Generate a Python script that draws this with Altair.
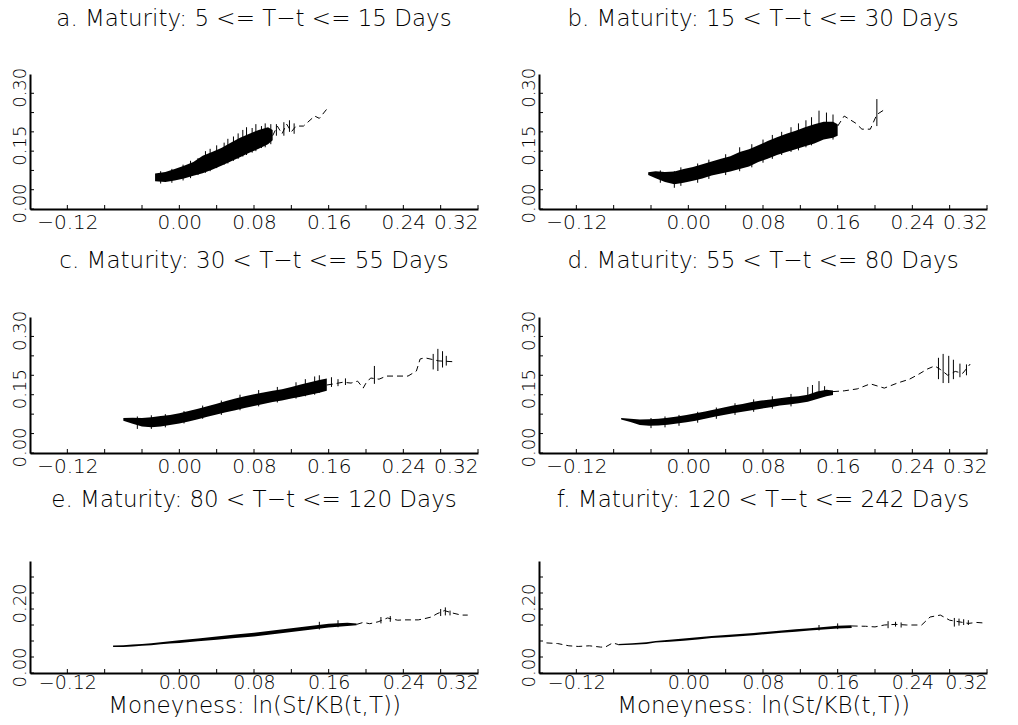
import altair as alt
import pandas as pd

# ---------------- data ----------------
TITLES = {
    "a": "a. Maturity: 5 <= T\u2212t <= 15 Days",
    "b": "b. Maturity: 15 < T\u2212t <= 30 Days",
    "c": "c. Maturity: 30 < T\u2212t <= 55 Days",
    "d": "d. Maturity: 55 < T\u2212t <= 80 Days",
    "e": "e. Maturity: 80 < T\u2212t <= 120 Days",
    "f": "f. Maturity: 120 < T\u2212t <= 242 Days",
}
X_TITLE = "Moneyness: ln(St/KB(t,T))"
X_TICKS = [-0.12, -0.08, -0.04, 0.00, 0.04, 0.08, 0.12, 0.16, 0.20, 0.24, 0.28, 0.32]
X_LABELED = [-12, 0, 8, 16, 24, 32]
Y_TICKS = [0.00, 0.05, 0.10, 0.15, 0.20, 0.25, 0.30]
Y_LABELS_TOP = [0.00, 0.15, 0.30]
Y_LABELS_BOTTOM = [0.00, 0.20]

# dense band: moneyness, lower and upper implied volatility
band_a_x = [-0.026, -0.015, -0.005, 0.005, 0.015, 0.025, 0.035, 0.045, 0.055, 0.065, 0.075, 0.085, 0.095, 0.100]
band_a_lo = [0.072, 0.070, 0.074, 0.079, 0.086, 0.093, 0.102, 0.112, 0.123, 0.134, 0.146, 0.156, 0.168, 0.178]
band_a_hi = [0.092, 0.096, 0.104, 0.112, 0.122, 0.138, 0.148, 0.158, 0.172, 0.185, 0.195, 0.205, 0.212, 0.205]

band_b_x = [-0.043, -0.035, -0.025, -0.015, -0.005, 0.005, 0.015, 0.025, 0.035, 0.045, 0.055, 0.065,
            0.075, 0.085, 0.095, 0.105, 0.115, 0.125, 0.135, 0.145, 0.155, 0.160]
band_b_lo = [0.088, 0.080, 0.070, 0.064, 0.068, 0.073, 0.079, 0.087, 0.092, 0.097, 0.104, 0.110,
             0.122, 0.130, 0.140, 0.148, 0.155, 0.163, 0.170, 0.180, 0.185, 0.190]
band_b_hi = [0.095, 0.098, 0.096, 0.097, 0.104, 0.109, 0.116, 0.123, 0.130, 0.137, 0.148, 0.155,
             0.165, 0.176, 0.186, 0.195, 0.203, 0.212, 0.220, 0.226, 0.226, 0.220]

band_c_x = [-0.060, -0.050, -0.040, -0.030, -0.020, -0.010, 0.000, 0.010, 0.020, 0.030, 0.040, 0.050,
            0.060, 0.070, 0.080, 0.090, 0.100, 0.110, 0.120, 0.130, 0.140, 0.150, 0.158]
band_c_lo = [0.083, 0.075, 0.068, 0.066, 0.068, 0.072, 0.076, 0.081, 0.087, 0.093, 0.099, 0.105,
             0.110, 0.116, 0.121, 0.126, 0.131, 0.135, 0.140, 0.145, 0.150, 0.155, 0.160]
band_c_hi = [0.090, 0.091, 0.090, 0.092, 0.095, 0.098, 0.102, 0.108, 0.114, 0.120, 0.127, 0.134,
             0.140, 0.146, 0.151, 0.156, 0.160, 0.164, 0.170, 0.176, 0.182, 0.188, 0.192]

band_d_x = [-0.072, -0.062, -0.052, -0.042, -0.032, -0.022, -0.012, -0.002, 0.008, 0.018, 0.028, 0.038,
            0.048, 0.058, 0.068, 0.078, 0.088, 0.098, 0.108, 0.118, 0.128, 0.138, 0.148, 0.155]
band_d_lo = [0.086, 0.080, 0.072, 0.070, 0.071, 0.073, 0.076, 0.079, 0.083, 0.088, 0.093, 0.098,
             0.102, 0.106, 0.110, 0.114, 0.118, 0.122, 0.125, 0.128, 0.132, 0.139, 0.146, 0.149]
band_d_hi = [0.090, 0.088, 0.086, 0.087, 0.088, 0.091, 0.094, 0.098, 0.102, 0.107, 0.112, 0.117,
             0.122, 0.126, 0.131, 0.135, 0.138, 0.141, 0.144, 0.146, 0.150, 0.158, 0.163, 0.161]

band_e_x = [-0.071, -0.060, -0.050, -0.040, -0.030, -0.020, -0.010, 0.000, 0.020, 0.040, 0.060, 0.080,
            0.100, 0.120, 0.140, 0.160, 0.180, 0.190]
band_e_lo = [0.081, 0.081, 0.083, 0.085, 0.087, 0.090, 0.092, 0.094, 0.099, 0.104, 0.109, 0.114,
             0.121, 0.128, 0.135, 0.142, 0.147, 0.149]
band_e_hi = [0.086, 0.087, 0.089, 0.091, 0.093, 0.096, 0.099, 0.102, 0.108, 0.114, 0.120, 0.126,
             0.133, 0.140, 0.147, 0.154, 0.157, 0.155]

band_f_x = [-0.075, -0.060, -0.045, -0.035, -0.020, -0.005, 0.010, 0.025, 0.040, 0.055, 0.070, 0.085,
            0.100, 0.115, 0.130, 0.145, 0.160, 0.175]
band_f_lo = [0.087, 0.088, 0.091, 0.095, 0.098, 0.101, 0.105, 0.109, 0.112, 0.115, 0.118, 0.122,
             0.126, 0.129, 0.133, 0.136, 0.139, 0.141]
band_f_hi = [0.091, 0.093, 0.096, 0.100, 0.104, 0.108, 0.112, 0.116, 0.119, 0.122, 0.125, 0.129,
             0.133, 0.137, 0.140, 0.144, 0.148, 0.149]

# sparse tails (dashed line): moneyness, implied volatility, segment id
tail_a_x = [0.100, 0.105, 0.110, 0.115, 0.120, 0.125, 0.133, 0.145, 0.150, 0.159]
tail_a_y = [0.190, 0.215, 0.195, 0.220, 0.200, 0.215, 0.215, 0.241, 0.235, 0.262]
tail_a_s = [1] * 10

tail_b_x = [0.160, 0.167, 0.179, 0.186, 0.195, 0.202, 0.211]
tail_b_y = [0.215, 0.241, 0.223, 0.207, 0.207, 0.245, 0.259]
tail_b_s = [1] * 7

tail_c_x = [0.158, 0.166, 0.175, 0.184, 0.191, 0.197, 0.200, 0.205, 0.214, 0.222, 0.245, 0.254, 0.258, 0.263, 0.278, 0.293]
tail_c_y = [0.175, 0.178, 0.182, 0.180, 0.185, 0.167, 0.180, 0.193, 0.190, 0.198, 0.198, 0.211, 0.242, 0.245, 0.237, 0.235]
tail_c_s = [1] * 16

tail_d_x = [0.155, 0.167, 0.181, 0.195, 0.210, 0.224, 0.237, 0.247, 0.256, 0.264, 0.270, 0.278, 0.286, 0.294, 0.302]
tail_d_y = [0.158, 0.160, 0.165, 0.178, 0.167, 0.180, 0.190, 0.203, 0.216, 0.224, 0.215, 0.200, 0.210, 0.205, 0.229]
tail_d_s = [1] * 15

tail_e_x = [0.190, 0.197, 0.204, 0.213, 0.223, 0.234, 0.240, 0.248, 0.256, 0.263, 0.270, 0.276, 0.284, 0.292, 0.302, 0.309]
tail_e_y = [0.152, 0.158, 0.154, 0.160, 0.172, 0.165, 0.166, 0.166, 0.166, 0.170, 0.175, 0.185, 0.195, 0.188, 0.181, 0.181]
tail_e_s = [1] * 16

tail_f_x = [-0.152, -0.140, -0.128, -0.118, -0.106, -0.094, -0.089, -0.081, -0.075,
            0.175, 0.190, 0.200, 0.210, 0.222, 0.234, 0.238, 0.250, 0.259, 0.270, 0.280, 0.290, 0.300, 0.309, 0.318]
tail_f_y = [0.094, 0.092, 0.085, 0.083, 0.085, 0.081, 0.081, 0.094, 0.089,
            0.147, 0.146, 0.144, 0.150, 0.152, 0.150, 0.150, 0.150, 0.175, 0.181, 0.165, 0.160, 0.155, 0.158, 0.156]
tail_f_s = [1] * 9 + [2] * 15

# isolated vertical strokes (noise sticking out of the band and the sparse tails)
spike_a_x = [-0.020, -0.008, 0.004, 0.012, 0.020, 0.028, 0.033, 0.040, 0.048, 0.052, 0.058, 0.063, 0.068, 0.072,
             0.078, 0.082, 0.088, 0.092, 0.098, 0.104, 0.112, 0.118, 0.123]
spike_a_lo = [0.066, 0.068, 0.074, 0.080, 0.088, 0.094, 0.098, 0.106, 0.115, 0.118, 0.125, 0.130, 0.136, 0.140,
              0.146, 0.150, 0.158, 0.160, 0.168, 0.190, 0.190, 0.200, 0.195]
spike_a_hi = [0.098, 0.104, 0.115, 0.125, 0.132, 0.150, 0.156, 0.165, 0.172, 0.182, 0.188, 0.196, 0.205, 0.212,
              0.210, 0.220, 0.215, 0.222, 0.220, 0.220, 0.225, 0.230, 0.222]

spike_b_x = [-0.030, -0.015, -0.008, 0.010, 0.022, 0.040, 0.055, 0.068, 0.080, 0.090, 0.100, 0.110, 0.118,
             0.126, 0.132, 0.140, 0.148, 0.155, 0.202]
spike_b_lo = [0.068, 0.055, 0.060, 0.068, 0.078, 0.088, 0.098, 0.108, 0.120, 0.130, 0.140, 0.148, 0.152,
              0.160, 0.165, 0.185, 0.185, 0.180, 0.215]
spike_b_hi = [0.100, 0.098, 0.108, 0.118, 0.128, 0.142, 0.160, 0.168, 0.180, 0.192, 0.200, 0.212, 0.222,
              0.230, 0.238, 0.255, 0.250, 0.245, 0.285]

spike_c_x = [-0.045, -0.030, -0.015, 0.005, 0.025, 0.045, 0.065, 0.085, 0.105, 0.125, 0.135, 0.145, 0.150,
             0.163, 0.170, 0.178, 0.209, 0.272, 0.277, 0.282, 0.286]
spike_c_lo = [0.062, 0.062, 0.066, 0.076, 0.088, 0.098, 0.110, 0.120, 0.130, 0.140, 0.146, 0.150, 0.155,
              0.170, 0.172, 0.175, 0.178, 0.215, 0.211, 0.220, 0.225]
spike_c_hi = [0.094, 0.097, 0.100, 0.108, 0.122, 0.135, 0.150, 0.162, 0.170, 0.182, 0.190, 0.197, 0.200,
              0.195, 0.190, 0.192, 0.224, 0.255, 0.268, 0.262, 0.250]

spike_d_x = [-0.040, -0.025, -0.010, 0.010, 0.030, 0.050, 0.070, 0.090, 0.110, 0.128, 0.133, 0.140, 0.146,
             0.268, 0.273, 0.279, 0.284, 0.291, 0.298]
spike_d_lo = [0.064, 0.066, 0.070, 0.078, 0.088, 0.098, 0.106, 0.114, 0.120, 0.140, 0.140, 0.145, 0.150,
              0.190, 0.180, 0.180, 0.190, 0.195, 0.200]
spike_d_hi = [0.090, 0.094, 0.098, 0.106, 0.117, 0.128, 0.138, 0.146, 0.152, 0.170, 0.175, 0.185, 0.172,
              0.245, 0.255, 0.250, 0.240, 0.230, 0.228]

spike_e_x = [0.150, 0.170, 0.216, 0.226, 0.280, 0.285, 0.290]
spike_e_lo = [0.136, 0.143, 0.155, 0.160, 0.178, 0.180, 0.180]
spike_e_hi = [0.160, 0.165, 0.175, 0.178, 0.200, 0.205, 0.195]

spike_f_x = [0.140, 0.160, 0.214, 0.222, 0.228, 0.285, 0.290, 0.295, 0.300]
spike_f_lo = [0.133, 0.137, 0.140, 0.145, 0.142, 0.145, 0.148, 0.150, 0.150]
spike_f_hi = [0.150, 0.155, 0.162, 0.160, 0.158, 0.172, 0.170, 0.168, 0.165]

DATA = {
    "a": (band_a_x, band_a_lo, band_a_hi, tail_a_x, tail_a_y, tail_a_s, spike_a_x, spike_a_lo, spike_a_hi),
    "b": (band_b_x, band_b_lo, band_b_hi, tail_b_x, tail_b_y, tail_b_s, spike_b_x, spike_b_lo, spike_b_hi),
    "c": (band_c_x, band_c_lo, band_c_hi, tail_c_x, tail_c_y, tail_c_s, spike_c_x, spike_c_lo, spike_c_hi),
    "d": (band_d_x, band_d_lo, band_d_hi, tail_d_x, tail_d_y, tail_d_s, spike_d_x, spike_d_lo, spike_d_hi),
    "e": (band_e_x, band_e_lo, band_e_hi, tail_e_x, tail_e_y, tail_e_s, spike_e_x, spike_e_lo, spike_e_hi),
    "f": (band_f_x, band_f_lo, band_f_hi, tail_f_x, tail_f_y, tail_f_s, spike_f_x, spike_f_lo, spike_f_hi),
}

FONT = "DejaVu Sans"
XSCALE = alt.Scale(domain=[-0.16, 0.32], nice=False, zero=False)
YSCALE = alt.Scale(domain=[0, 0.35], nice=False, zero=False)
TICK_LEN = 4


def panel(key, height, ylabels, title_offset, xtitle):
    bx, blo, bhi, tx, ty, ts, sx, slo, shi = DATA[key]
    band = pd.DataFrame({"m": bx, "lo": blo, "hi": bhi})
    tail = pd.DataFrame({"m": tx, "v": ty, "s": ts})
    spk = pd.DataFrame({"m": sx, "lo": slo, "hi": shi})
    xt = pd.DataFrame({"m": X_TICKS})
    yt = pd.DataFrame({"lo": Y_TICKS})

    xlabel_expr = "indexof(%s, round(datum.value*100)) >= 0 ? datum.label : ''" % X_LABELED

    if xtitle:
        xaxis = alt.Axis(values=X_TICKS, format=".2f", labelExpr=xlabel_expr, title=xtitle,
                         labelOverlap=False, labelFontSize=19, labelPadding=0, ticks=False,
                         titleBaseline="alphabetic", titleY=39, titleFontSize=23)
    else:
        xaxis = alt.Axis(values=X_TICKS, format=".2f", labelExpr=xlabel_expr, title=None,
                         labelOverlap=False, labelFontSize=20, labelPadding=3, ticks=False)
    yaxis = alt.Axis(values=ylabels, format=".2f", title=None, ticks=False,
                     labelAngle=270, labelAlign="center", labelBaseline="alphabetic",
                     labelOffset=-6, labelFontSize=18, labelPadding=5, labelOverlap=False)

    area = alt.Chart(band).mark_area(color="black", opacity=1, strokeWidth=0).encode(
        x=alt.X("m:Q", scale=XSCALE, axis=xaxis),
        y=alt.Y("lo:Q", scale=YSCALE, axis=yaxis),
        y2="hi:Q",
    )
    rules = alt.Chart(spk).mark_rule(color="black", strokeWidth=1).encode(
        x="m:Q", y="lo:Q", y2="hi:Q"
    )
    line = alt.Chart(tail).mark_line(color="black", strokeWidth=1, strokeDash=[6, 4]).encode(
        x="m:Q", y="v:Q", detail="s:N", order="m:Q"
    )
    # inward tick marks on both axes
    xticks = alt.Chart(xt).mark_rule(color="black", strokeWidth=1).encode(
        x="m:Q", y=alt.value(height), y2=alt.value(height - TICK_LEN)
    )
    yticks = alt.Chart(yt).mark_rule(color="black", strokeWidth=1).encode(
        y="lo:Q", x=alt.value(0), x2=alt.value(TICK_LEN)
    )
    return alt.layer(area, rules, line, xticks, yticks).properties(
        width=448, height=height,
        title=alt.TitleParams(TITLES[key], anchor="middle", frame="group", offset=title_offset,
                              baseline="alphabetic", fontSize=23, font=FONT, fontWeight=200,
                              color="black"),
    )


panels = [
    panel("a", 135, Y_LABELS_TOP, 18, None), panel("b", 135, Y_LABELS_TOP, 18, None),
    panel("c", 136, Y_LABELS_TOP, 19, None), panel("d", 136, Y_LABELS_TOP, 19, None),
    panel("e", 112, Y_LABELS_BOTTOM, 31, X_TITLE), panel("f", 112, Y_LABELS_BOTTOM, 31, X_TITLE),
]

chart = alt.concat(*panels, columns=2, spacing={"row": 108, "column": 61}, bounds="flush").properties(
    padding={"left": 10, "top": 8, "right": 5, "bottom": 0},
    background="white",
).configure_view(strokeWidth=0).configure_axis(
    grid=False, domainColor="black", domainWidth=2,
    labelColor="black", labelFont=FONT, labelFontSize=19, labelFontWeight=200,
    titleFont=FONT, titleFontSize=23, titleFontWeight=200, titleColor="black",
    titlePadding=0,
)

chart.save("out.html", embed_options={"renderer": "svg", "actions": False})
